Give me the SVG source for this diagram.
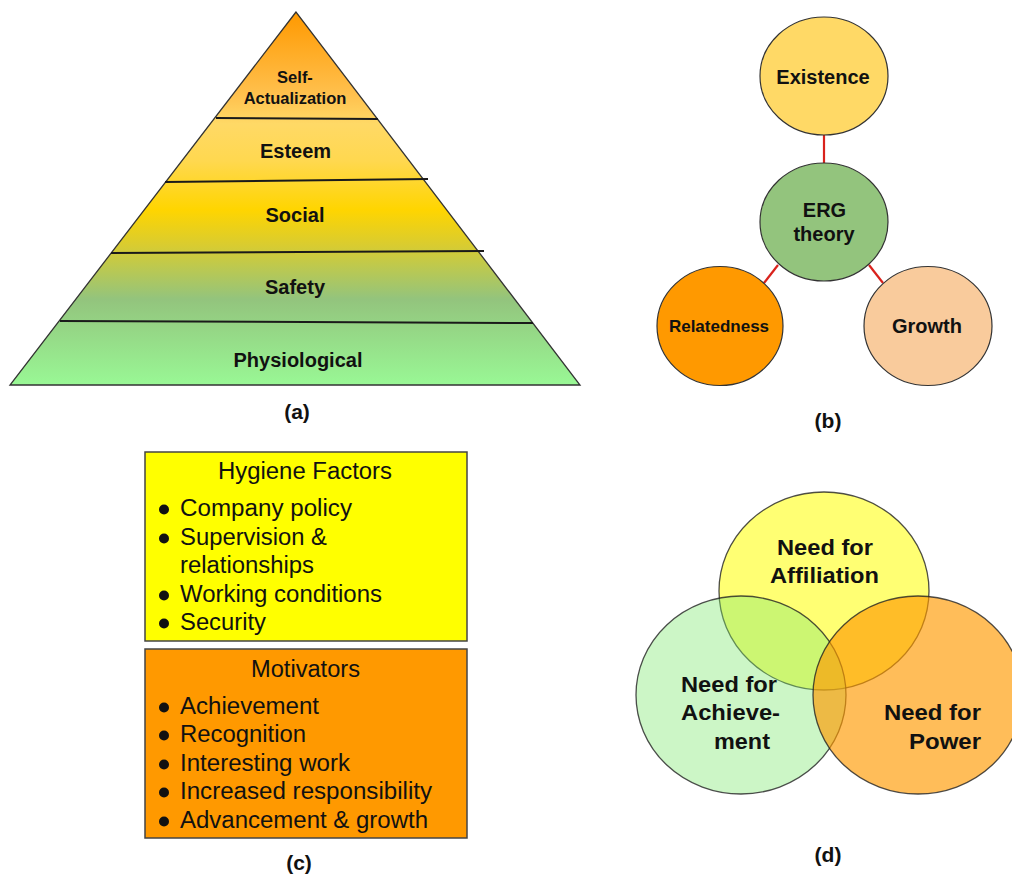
<svg xmlns="http://www.w3.org/2000/svg" width="1012" height="876" viewBox="0 0 1012 876">
<defs>
<linearGradient id="pyr" gradientUnits="userSpaceOnUse" x1="0" y1="12" x2="0" y2="385">
<stop offset="0" stop-color="#FF9900"/>
<stop offset="0.22" stop-color="#FFC04D"/>
<stop offset="0.30" stop-color="#FFD966"/>
<stop offset="0.40" stop-color="#FFD84F"/>
<stop offset="0.53" stop-color="#FFD500"/>
<stop offset="0.625" stop-color="#D9CC30"/>
<stop offset="0.77" stop-color="#93C47D"/>
<stop offset="1" stop-color="#99F895"/>
</linearGradient>
<style>
.b{font-family:"Liberation Sans",Arial,sans-serif;font-weight:bold;fill:#111;}
.r{font-family:"Liberation Sans",Arial,sans-serif;fill:#111;}
.c{text-anchor:middle;}
.lvl{stroke:#1a1a1a;stroke-width:2;fill:none;}
.node{stroke:#333;stroke-width:1.2;}
.conn{stroke:#D9221C;stroke-width:2.2;fill:none;}
.box{stroke:#444;stroke-width:1.5;}
.bul{fill:#111;}
.venn{stroke:#222;stroke-width:1.3;stroke-opacity:0.8;}
</style>
</defs>
<rect width="1012" height="876" fill="#fff"/>

<!-- (a) Maslow pyramid -->
<g id="pyramid">
<polygon points="296,12 10,385 580,385" fill="url(#pyr)" stroke="#333" stroke-width="1.3" stroke-linejoin="miter"/>
<line class="lvl" x1="216" y1="118" x2="378" y2="119"/>
<line class="lvl" x1="165" y1="182" x2="428" y2="179"/>
<line class="lvl" x1="111" y1="253" x2="484" y2="251"/>
<line class="lvl" x1="60" y1="321" x2="533" y2="323"/>
<text class="b c" x="295" y="83" font-size="16.5">Self-</text>
<text class="b c" x="295" y="104" font-size="16.5">Actualization</text>
<text class="b c" x="295.5" y="158" font-size="20">Esteem</text>
<text class="b c" x="295" y="222" font-size="20">Social</text>
<text class="b c" x="295" y="294" font-size="20">Safety</text>
<text class="b c" x="298" y="367" font-size="20">Physiological</text>
<text class="b c" x="297" y="419" font-size="21">(a)</text>
</g>

<!-- (b) ERG theory -->
<g id="erg-connectors">
<line class="conn" x1="824" y1="135" x2="824" y2="163"/>
<line class="conn" x1="778" y1="265" x2="764" y2="283"/>
<line class="conn" x1="869" y1="265" x2="883" y2="283"/>
</g>
<g id="existence">
<ellipse class="node" cx="824" cy="76" rx="64" ry="59" fill="#FFD966"/>
<text class="b c" x="823" y="84" font-size="20">Existence</text>
</g>
<g id="erg">
<ellipse class="node" cx="824" cy="222" rx="64" ry="59" fill="#93C47D"/>
<text class="b c" x="824.5" y="217" font-size="20">ERG</text>
<text class="b c" x="824" y="241" font-size="20">theory</text>
</g>
<g id="relatedness">
<ellipse class="node" cx="720" cy="326" rx="63" ry="59.5" fill="#FF9900"/>
<text class="b c" x="719" y="332" font-size="17">Relatedness</text>
</g>
<g id="growth">
<ellipse class="node" cx="928" cy="326" rx="64" ry="59.5" fill="#F9CB9C"/>
<text class="b c" x="927" y="333" font-size="20">Growth</text>
</g>
<text id="label-b" class="b c" x="828" y="428" font-size="21">(b)</text>

<!-- (c) Herzberg -->
<g id="hygiene">
<rect class="box" x="145" y="452" width="322" height="189" fill="#FFFF00"/>
<text class="r" x="218" y="479" font-size="23.5" textLength="174" lengthAdjust="spacingAndGlyphs">Hygiene Factors</text>
<circle class="bul" cx="164" cy="509.5" r="5"/>
<text class="r" x="180" y="516" font-size="23.5" textLength="172" lengthAdjust="spacingAndGlyphs">Company policy</text>
<circle class="bul" cx="164" cy="538.5" r="5"/>
<text class="r" x="180" y="545" font-size="23.5" textLength="147" lengthAdjust="spacingAndGlyphs">Supervision &amp;</text>
<text class="r" x="180" y="573" font-size="23.5" textLength="134" lengthAdjust="spacingAndGlyphs">relationships</text>
<circle class="bul" cx="164" cy="595.5" r="5"/>
<text class="r" x="180" y="602" font-size="23.5" textLength="202" lengthAdjust="spacingAndGlyphs">Working conditions</text>
<circle class="bul" cx="164" cy="623.5" r="5"/>
<text class="r" x="180" y="630" font-size="23.5" textLength="86" lengthAdjust="spacingAndGlyphs">Security</text>
</g>
<g id="motivators">
<rect class="box" x="145" y="649" width="322" height="189" fill="#FF9900"/>
<text class="r" x="251" y="677" font-size="23.5" textLength="109" lengthAdjust="spacingAndGlyphs">Motivators</text>
<circle class="bul" cx="164" cy="707.5" r="5"/>
<text class="r" x="180" y="714" font-size="23.5" textLength="139" lengthAdjust="spacingAndGlyphs">Achievement</text>
<circle class="bul" cx="164" cy="735.5" r="5"/>
<text class="r" x="180" y="742" font-size="23.5" textLength="126" lengthAdjust="spacingAndGlyphs">Recognition</text>
<circle class="bul" cx="164" cy="764.5" r="5"/>
<text class="r" x="180" y="771" font-size="23.5" textLength="170" lengthAdjust="spacingAndGlyphs">Interesting work</text>
<circle class="bul" cx="164" cy="792.5" r="5"/>
<text class="r" x="180" y="799" font-size="23.5" textLength="252" lengthAdjust="spacingAndGlyphs">Increased responsibility</text>
<circle class="bul" cx="164" cy="821.5" r="5"/>
<text class="r" x="180" y="828" font-size="23.5" textLength="248" lengthAdjust="spacingAndGlyphs">Advancement &amp; growth</text>
</g>
<text id="label-c" class="b c" x="299" y="870" font-size="21">(c)</text>

<!-- (d) McClelland -->
<g id="affiliation">
<ellipse class="venn" cx="824" cy="591" rx="105" ry="99" fill="#FFFF00" fill-opacity="0.55"/>
</g>
<g id="achievement">
<ellipse class="venn" cx="741" cy="695" rx="105" ry="99" fill="#7FE870" fill-opacity="0.4"/>
</g>
<g id="power">
<ellipse class="venn" cx="918" cy="695" rx="105" ry="99" fill="#FF9900" fill-opacity="0.65"/>
</g>
<g id="venn-labels">
<text class="b" x="777" y="555" font-size="22.5" textLength="96" lengthAdjust="spacingAndGlyphs">Need for</text>
<text class="b" x="770" y="583" font-size="22.5" textLength="109" lengthAdjust="spacingAndGlyphs">Affiliation</text>
<text class="b" x="681" y="692" font-size="22.5" textLength="96" lengthAdjust="spacingAndGlyphs">Need for</text>
<text class="b" x="681" y="720" font-size="22.5" textLength="99" lengthAdjust="spacingAndGlyphs">Achieve-</text>
<text class="b" x="714" y="749" font-size="22.5" textLength="56" lengthAdjust="spacingAndGlyphs">ment</text>
<text class="b" x="884" y="720" font-size="22.5" textLength="97" lengthAdjust="spacingAndGlyphs">Need for</text>
<text class="b" x="909" y="749" font-size="22.5" textLength="72" lengthAdjust="spacingAndGlyphs">Power</text>
</g>
<text id="label-d" class="b c" x="828" y="862" font-size="21">(d)</text>
</svg>
